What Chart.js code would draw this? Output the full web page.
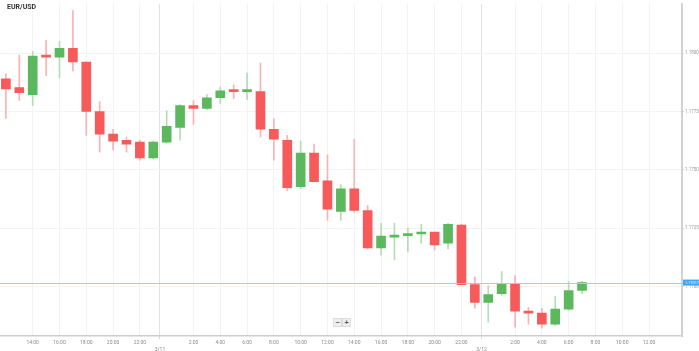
<!DOCTYPE html>
<html>
<head>
<meta charset="utf-8">
<script src="https://cdn.jsdelivr.net/npm/chart.js@4.4.1/dist/chart.umd.min.js"></script>
<style>
  html, body { margin: 0; padding: 0; background: #fff; }
  #wrap { position: relative; width: 699px; height: 351px; overflow: hidden; }
  #title { position: absolute; left: 7px; top: 3px; font: bold 7px Roboto, Arial, sans-serif; color: #333; }
  .zbtn { position: absolute; top: 318px; width: 7px; height: 7px; background: #eee; border: 1px solid #ddd;
          font: bold 7px Arial, sans-serif; color: #555; line-height: 7px; text-align: center; }
</style>
</head>
<body>
<div id="wrap">
  <canvas id="c" width="699" height="351"></canvas>
  <div id="title">EUR/USD</div>
  <div class="zbtn" style="left:333px">−</div>
  <div class="zbtn" style="left:342px">+</div>
</div>
<script>
// ── EUR/USD hourly candles (hours counted from 3/10 0:00) ──
const hours  = [12,13,14,15,16,17,18,19,20,21,22,23,24,25,26,27,28,29,30,31,32,33,34,35,36,37,38,39,40,41,42,43,44,45,46,47,48,49,50,51,52,53,54,55];
const opens  = [1.17890,1.17852,1.17822,1.17987,1.17983,1.18021,1.17962,1.17750,1.17653,1.17627,1.17619,1.17551,1.17619,1.17682,1.17775,1.17763,1.17809,1.17843,1.17835,1.17835,1.17674,1.17627,1.17428,1.17572,1.17453,1.17322,1.17419,1.17326,1.17165,1.17212,1.17218,1.17225,1.17233,1.17186,1.17263,1.17008,1.16932,1.16970,1.17013,1.16894,1.16886,1.16839,1.16903,1.16983];
const highs  = [1.17911,1.17992,1.18008,1.18055,1.18051,1.18182,1.17962,1.17792,1.17674,1.17640,1.17627,1.17623,1.17754,1.17780,1.17797,1.17822,1.17856,1.17864,1.17915,1.17958,1.17720,1.17648,1.17623,1.17610,1.17564,1.17436,1.17631,1.17347,1.17271,1.17271,1.17250,1.17267,1.17233,1.17271,1.17267,1.17042,1.17004,1.17064,1.17047,1.16911,1.16907,1.16958,1.17021,1.17021];
const lows   = [1.17720,1.17797,1.17775,1.17903,1.17894,1.17924,1.17648,1.17576,1.17585,1.17576,1.17542,1.17547,1.17614,1.17627,1.17695,1.17758,1.17784,1.17805,1.17801,1.17640,1.17542,1.17411,1.17419,1.17449,1.17284,1.17284,1.17318,1.17161,1.17136,1.17114,1.17148,1.17186,1.17157,1.17161,1.17008,1.16907,1.16847,1.16962,1.16826,1.16839,1.16822,1.16831,1.16898,1.16970];
const closes = [1.17847,1.17831,1.17987,1.17983,1.18021,1.17962,1.17750,1.17653,1.17623,1.17610,1.17551,1.17619,1.17686,1.17775,1.17763,1.17809,1.17839,1.17835,1.17839,1.17674,1.17631,1.17424,1.17572,1.17449,1.17331,1.17419,1.17326,1.17165,1.17216,1.17220,1.17222,1.17233,1.17178,1.17267,1.17008,1.16932,1.16966,1.17013,1.16894,1.16886,1.16839,1.16903,1.16983,1.17017];

// axis ticks
const timeTicks  = [14,16,18,20,22,26,28,30,32,34,36,38,40,42,44,46,50,52,54,56,58,60];
const dateTicks  = [23.5, 47.5];
const dateLabels = ['3/11', '3/12'];
const priceTicks = [1.17000, 1.17250, 1.17500, 1.17750, 1.18000];
const lastPrice  = closes[closes.length - 1];

const UP = '#5bb85d', DOWN = '#f65a5a';
const UP_WICK = '#b4dcb5', DOWN_WICK = '#f9b3b3';
const isUp = i => closes[i] >= opens[i];

const bodies = hours.map((h, i) => ({ x: h, y: [opens[i], closes[i]] }));
const wicks  = hours.map((h, i) => ({ x: h, y: [lows[i], highs[i]] }));

// last price line + label on the right axis
const priceLine = {
  id: 'priceLine',
  afterDatasetsDraw(chart) {
    const { ctx, chartArea: a, scales: { y } } = chart;
    const py = Math.round(y.getPixelForValue(lastPrice)) + 0.5;
    ctx.save();
    ctx.strokeStyle = '#9ccff5';
    ctx.lineWidth = 1;
    ctx.beginPath(); ctx.moveTo(a.left, py); ctx.lineTo(a.right, py); ctx.stroke();
    ctx.restore();
  },
  afterDraw(chart) {
    const { ctx, chartArea: a, scales: { y } } = chart;
    const py = y.getPixelForValue(lastPrice);
    ctx.save();
    ctx.fillStyle = '#3ca4f2';
    ctx.fillRect(a.right + 1, py - 3, 17, 6);
    ctx.fillStyle = '#fff';
    ctx.font = '4px Roboto, Arial';
    ctx.textBaseline = 'middle';
    ctx.fillText(lastPrice.toFixed(5), a.right + 3, py, 14);
    ctx.restore();
  }
};

const isDate = v => dateTicks.includes(v);

new Chart(document.getElementById('c'), {
  type: 'bar',
  data: {
    datasets: [
      { label: 'body', data: bodies, grouped: false, barThickness: 9, minBarLength: 2,
        backgroundColor: ctx => isUp(ctx.dataIndex) ? UP : DOWN, borderWidth: 0 },
      { label: 'wick', data: wicks, grouped: false, barThickness: 1,
        backgroundColor: ctx => isUp(ctx.dataIndex) ? UP_WICK : DOWN_WICK, borderWidth: 0 },
    ]
  },
  options: {
    responsive: false, animation: false,
    layout: { padding: 0 },
    plugins: { legend: { display: false }, tooltip: { enabled: false } },
    scales: {
      x: {
        type: 'linear', min: 11.56, max: 62.46, offset: false,
        afterBuildTicks: s => { s.ticks = timeTicks.concat(dateTicks).sort((a, b) => a - b).map(v => ({ value: v })); },
        afterFit: s => { s.height = 15; },
        ticks: {
          autoSkip: false, maxRotation: 0, padding: 1, color: '#8a8a8a',
          font: { size: 5, family: 'Roboto, Arial', lineHeight: 1.25 },
          callback: v => isDate(v) ? ['', dateLabels[dateTicks.indexOf(v)]] : [(v % 24) + ':00', '']
        },
        grid: {
          offset: false,
          color: c => c.tick && isDate(c.tick.value) ? '#e2e2e2' : '#f3f3f3',
          tickColor: c => c.tick && isDate(c.tick.value) ? '#d6d6d6' : 'rgba(0,0,0,0)',
          tickLength: 3
        },
        border: { display: true, color: '#cdcdcd', width: 1.5 }
      },
      y: {
        type: 'linear', position: 'right', min: 1.167881, max: 1.182119,
        afterBuildTicks: s => { s.ticks = priceTicks.map(v => ({ value: v })); },
        afterFit: s => { s.width = 17; },
        ticks: { padding: 1, color: '#9a9a9a', font: { size: 4.5, family: 'Roboto, Arial' },
                 callback: v => v.toFixed(5) },
        grid: { color: '#f3f3f3', tickLength: 2, tickColor: '#cfcfcf' },
        border: { display: true, color: '#d2d2d2', width: 2 }
      }
    }
  },
  plugins: [priceLine]
});
</script>
</body>
</html>
